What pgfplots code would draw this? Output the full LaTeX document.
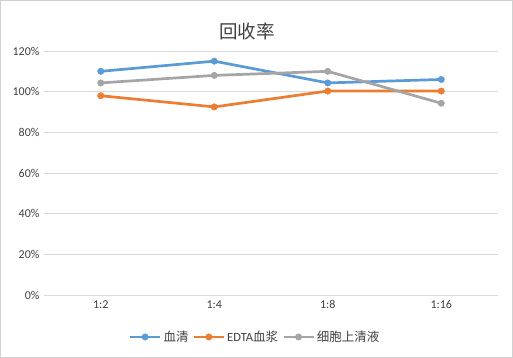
\documentclass[border=0pt]{standalone}
\usepackage{pgfplots}
\pgfplotsset{compat=1.18}
\usepackage{fontspec}
\setmainfont{Carlito}
\newfontfamily\cjk{Noto Sans CJK SC}
\definecolor{cblue}{HTML}{5B9BD5}
\definecolor{corange}{HTML}{ED7D31}
\definecolor{cgray}{HTML}{A5A5A5}
\begin{document}
\begin{tikzpicture}[x=1pt,y=1pt]
\useasboundingbox (0,0) rectangle (513,358);
\draw[black!18, line width=0.9pt] (0.5,0.5) rectangle (512.5,357.5);
\node[font=\cjk\fontsize{18.5}{20}\selectfont, text=black!75] at (247,327) {回收率};
\begin{axis}[
  at={(44pt,63pt)}, anchor=south west,
  width=454pt, height=244pt, scale only axis,
  xmin=-0.5, xmax=3.5, ymin=0, ymax=120,
  ytick={0,20,...,120},
  yticklabel={\pgfmathprintnumber{\tick}\%},
  xtick={0,1,2,3}, xticklabels={1:2,1:4,1:8,1:16},
  axis line style={draw=none},
  major tick length=0pt,
  ymajorgrids, grid style={draw=black!15, line width=0.75pt},
  tick label style={font=\fontsize{12}{14}\selectfont, text=black!75},
  /pgf/number format/assume math mode=true,
  xticklabel style={yshift=-2pt},
  yticklabel style={xshift=-1pt},
  legend style={at={(0.465,-0.172)}, anchor=center, draw=none, fill=none,
    legend columns=3, font=\fontsize{12.5}{14}\selectfont, text=black!75,
    /tikz/every even column/.append style={column sep=2pt}},
  legend image code/.code={
    \draw[#1, mark=none] (0pt,0pt) -- (30pt,0pt);
    \draw[#1, only marks] plot coordinates {(15pt,0pt)};
  },
  every axis plot/.append style={line width=2.7pt, mark=*, mark size=3.2pt},
  clip=false,
]
\addplot[color=cblue, mark options={fill=cblue, draw=cblue, line width=0.5pt}] coordinates {(0,110) (1,115) (2,104.3) (3,106)};
\addlegendentry{\cjk 血清}
\addplot[color=corange, mark options={fill=corange, draw=corange, line width=0.5pt}] coordinates {(0,98) (1,92.5) (2,100.3) (3,100.3)};
\addlegendentry{EDTA{\cjk 血浆}}
\addplot[color=cgray, mark options={fill=cgray, draw=cgray, line width=0.5pt}] coordinates {(0,104.3) (1,108) (2,110) (3,94.3)};
\addlegendentry{\cjk 细胞上清液}
\end{axis}
\end{tikzpicture}
\end{document}
